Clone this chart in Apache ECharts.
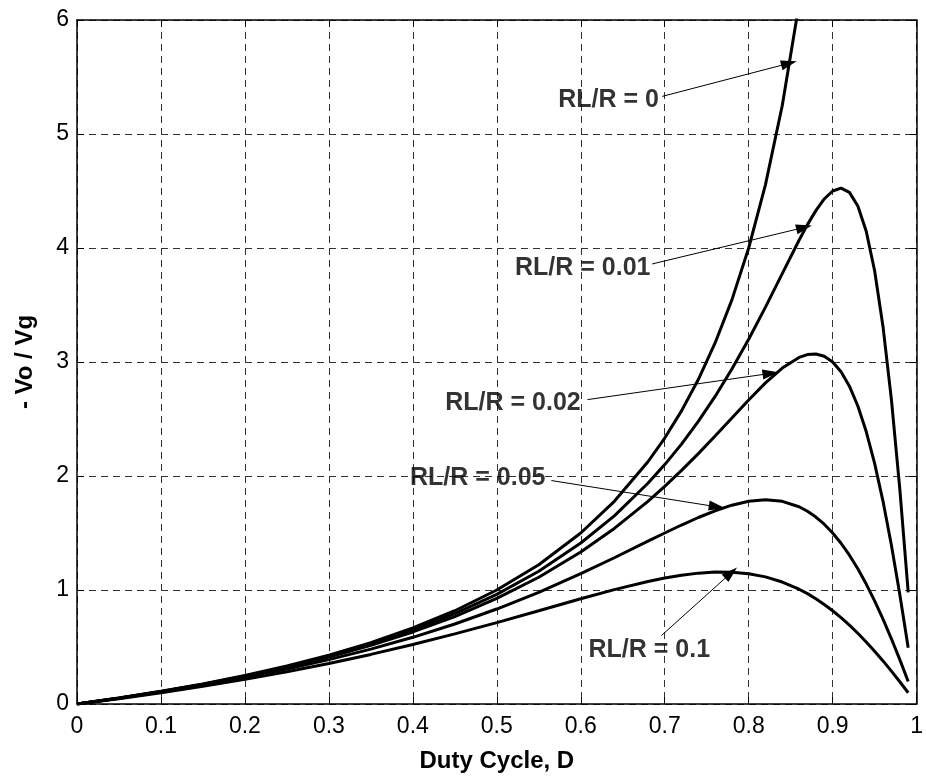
<!DOCTYPE html>
<html>
<head>
<meta charset="utf-8">
<script src="https://cdn.jsdelivr.net/npm/echarts@6/dist/echarts.min.js"></script>
<style>
  html, body { margin: 0; padding: 0; background: #fff; }
  #chart { width: 926px; height: 783px; }
</style>
</head>
<body>
<div id="chart"></div>
<script>
// duty cycle samples shared by every curve
const DUTY = [0, 0.05, 0.1, 0.15, 0.2, 0.25, 0.3, 0.35, 0.4, 0.45, 0.5, 0.55, 0.6, 0.64, 0.68,
  0.7, 0.72, 0.74, 0.76, 0.78, 0.8, 0.82, 0.84, 0.86, 0.87, 0.88, 0.89, 0.9, 0.91, 0.92, 0.93,
  0.94, 0.95, 0.96, 0.97, 0.98, 0.99];

// -Vo/Vg, one array per RL/R
const M_R0 = [0, 0.053, 0.111, 0.176, 0.25, 0.333, 0.429, 0.538, 0.667, 0.818, 1.0, 1.222, 1.5, 1.778, 2.125,
  2.333, 2.571, 2.846, 3.167, 3.545, 4.0, 4.556, 5.25, 6.14, null, null, null, null, null, null, null,
  null, null, null, null, null, null];
const M_R001 = [0, 0.052, 0.110, 0.174, 0.246, 0.328, 0.42, 0.526, 0.649, 0.792, 0.962, 1.165, 1.412, 1.65, 1.936,
  2.1, 2.28, 2.479, 2.698, 2.938, 3.2, 3.481, 3.775, 4.068, 4.205, 4.328, 4.43, 4.5, 4.525, 4.488, 4.369,
  4.147, 3.8, 3.31, 2.67, 1.885, 0.98];
const M_R002 = [0, 0.051, 0.108, 0.172, 0.242, 0.322, 0.412, 0.514, 0.632, 0.767, 0.926, 1.112, 1.333, 1.54, 1.778,
  1.909, 2.049, 2.196, 2.351, 2.509, 2.667, 2.817, 2.947, 3.04, 3.065, 3.07, 3.05, 3.0, 2.915, 2.788, 2.614,
  2.39, 2.111, 1.778, 1.392, 0.961, 0.493];
const M_R005 = [0, 0.050, 0.105, 0.165, 0.232, 0.306, 0.389, 0.481, 0.585, 0.702, 0.833, 0.98, 1.143, 1.283, 1.428,
  1.5, 1.57, 1.636, 1.695, 1.744, 1.778, 1.791, 1.778, 1.73, 1.691, 1.64, 1.577, 1.5, 1.41, 1.305, 1.186,
  1.052, 0.905, 0.744, 0.572, 0.389, 0.198];
const M_R01 = [0, 0.047, 0.099, 0.155, 0.216, 0.283, 0.356, 0.435, 0.522, 0.615, 0.714, 0.818, 0.923, 1.003, 1.075,
  1.105, 1.13, 1.148, 1.157, 1.156, 1.143, 1.115, 1.07, 1.007, 0.968, 0.923, 0.873, 0.818, 0.758, 0.692, 0.621,
  0.544, 0.463, 0.378, 0.288, 0.195, 0.099];

const CURVES = [M_R0, M_R001, M_R002, M_R005, M_R01];

// annotations: label text, label anchor (right-middle), arrow tail, arrow head (data coords)
const LABEL_TEXT = ['RL/R = 0', 'RL/R = 0.01', 'RL/R = 0.02', 'RL/R = 0.05', 'RL/R = 0.1'];
const LABEL_AT = [[0.693, 5.30], [0.683, 3.82], [0.600, 2.64], [0.558, 1.98], [0.754, 0.47]];
const ARROW_FROM = [[0.697, 5.33], [0.685, 3.86], [0.608, 2.67], [0.565, 1.96], [0.696, 0.60]];
const ARROW_TO = [[0.848, 5.62], [0.866, 4.18], [0.826, 2.90], [0.762, 1.73], [0.779, 1.15]];

const FONT = 'Liberation Sans, Arial, Helvetica, sans-serif';

const chart = echarts.init(document.getElementById('chart'), null, { renderer: 'canvas' });

const gridLine = { show: true, lineStyle: { color: '#333', width: 1, type: [7, 5] } };
const boxLine = { show: true, onZero: false, lineStyle: { color: '#000', width: 1.5 } };
const innerTick = { show: true, inside: true, length: 7, lineStyle: { color: '#000', width: 1 } };

const curveSeries = CURVES.map((vals, i) => ({
  name: LABEL_TEXT[i],
  type: 'line',
  data: DUTY.map((d, k) => [d, vals[k]]),
  showSymbol: false,
  clip: true,
  connectNulls: false,
  lineStyle: { color: '#000', width: 3 },
  z: 3,
}));

const arrowSeries = {
  type: 'line',
  data: [],
  markLine: {
    silent: true,
    symbol: ['none', 'triangle'],
    symbolSize: [10, 16],
    lineStyle: { color: '#000', width: 1, type: 'solid' },
    label: { show: false },
    data: ARROW_FROM.map((p, i) => [{ coord: p }, { coord: ARROW_TO[i] }]),
  },
  z: 4,
};

const labelSeries = {
  type: 'scatter',
  symbolSize: 0,
  data: LABEL_AT,
  label: {
    show: true,
    position: 'left',
    distance: 0,
    formatter: (p) => LABEL_TEXT[p.dataIndex],
    color: '#000',
    fontFamily: FONT,
    fontWeight: 'bold',
    fontSize: 25,
  },
  z: 5,
};

chart.setOption({
  animation: false,
  backgroundColor: '#fff',
  grid: { left: 77, right: 8, top: 20, bottom: 79 },
  xAxis: [
    {
      type: 'value', min: 0, max: 1, interval: 0.1,
      name: 'Duty Cycle, D', nameLocation: 'middle', nameGap: 45,
      nameTextStyle: { color: '#000', fontFamily: FONT, fontWeight: 'bold', fontSize: 24 },
      axisLine: boxLine, axisTick: innerTick, splitLine: gridLine,
      axisLabel: { color: '#000', fontFamily: FONT, fontSize: 23, margin: 11 },
    },
    {
      type: 'value', min: 0, max: 1, interval: 0.1, position: 'top',
      axisLine: boxLine, axisTick: innerTick, splitLine: { show: false }, axisLabel: { show: false },
    },
  ],
  yAxis: [
    {
      type: 'value', min: 0, max: 6, interval: 1,
      name: '- Vo / Vg', nameLocation: 'middle', nameGap: 40,
      nameTextStyle: { color: '#000', fontFamily: FONT, fontWeight: 'bold', fontSize: 24 },
      axisLine: boxLine, axisTick: innerTick, splitLine: gridLine,
      axisLabel: { color: '#000', fontFamily: FONT, fontSize: 23, margin: 8 },
    },
    {
      type: 'value', min: 0, max: 6, interval: 1, position: 'right',
      axisLine: boxLine, axisTick: innerTick, splitLine: { show: false }, axisLabel: { show: false },
    },
  ],
  series: [...curveSeries, arrowSeries, labelSeries],
});
</script>
</body>
</html>
